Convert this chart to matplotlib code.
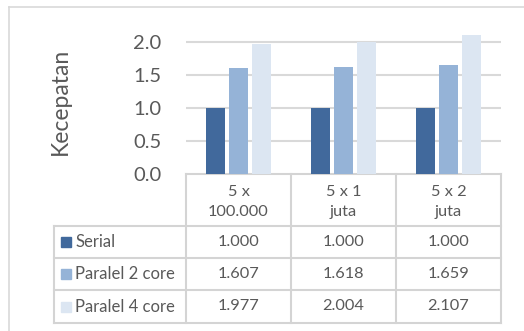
import numpy as np
import matplotlib
matplotlib.use("Agg")
import matplotlib.pyplot as plt
from matplotlib.patches import Rectangle

plt.rcParams['font.family'] = ['Lato', 'DejaVu Sans']

# data
categories = ["5 x\n100.000", "5 x 1\njuta", "5 x 2\njuta"]
series_names = ["Serial", "Paralel 2 core", "Paralel 4 core"]
serial = [1.000, 1.000, 1.000]
paralel2 = [1.607, 1.618, 1.659]
paralel4 = [1.977, 2.004, 2.107]
yticks = [0.0, 0.5, 1.0, 1.5, 2.0]

colors = ["#41699C", "#95B3D7", "#DCE6F2"]
grid_c = "#D9D9D9"
text_c = "#595959"

W, H = 524, 331
fig = plt.figure(figsize=(W / 100, H / 100), dpi=100)

# overlay axes in pixel coordinates for the frame and the data table
ov = fig.add_axes([0, 0, 1, 1])
ov.set_xlim(0, W)
ov.set_ylim(H, 0)
ov.axis("off")

# plot area
x0, x1 = 186, 501
y_zero, y_two = 174, 42
ymax = 2.2
top = y_zero - (y_zero - y_two) * ymax / 2.0
ax = fig.add_axes([x0 / W, 1 - y_zero / H, (x1 - x0) / W, (y_zero - top) / H])
ax.set_xlim(-0.5, len(categories) - 0.5)
ax.set_ylim(0, ymax)
ax.patch.set_alpha(0)

x = np.arange(len(categories))
bw = 0.176
off = 0.221
for k, vals in enumerate([serial, paralel2, paralel4]):
    ax.bar(x + (k - 1) * off, vals, width=bw, color=colors[k], zorder=3)

ax.set_yticks(yticks)
ax.set_yticklabels([f"{t:.1f}" for t in yticks], fontsize=14.5, color=text_c)
ax.set_xticks([])
ax.tick_params(axis="y", length=0, pad=17.5)
for t in yticks[1:]:
    ax.axhline(t, color=grid_c, lw=1.5, zorder=1)
for s in ax.spines.values():
    s.set_visible(False)
ax.set_ylabel("Kecepatan", fontsize=16.5, color=text_c, labelpad=45)

# chart border
ov.plot([8.5, 8.5], [331, 6.5], color=grid_c, lw=1.2)
ov.plot([8.5, 524], [6.5, 6.5], color=grid_c, lw=1.2)

# table grid
col_x = [186, 291, 396, 501]
row_y = [174, 226, 258, 290, 323]
tab_left = 54
lc = "#D4D4D4"
ov.plot([x0, x1], [row_y[0], row_y[0]], color=lc, lw=1.5)
for yy in row_y[1:]:
    ov.plot([tab_left, x1], [yy, yy], color=lc, lw=1.5)
for xx in col_x:
    ov.plot([xx, xx], [row_y[0], row_y[-1]], color=lc, lw=1.5)
ov.plot([tab_left, tab_left], [row_y[1], row_y[-1]], color=lc, lw=1.5)

# header row
for j, cat in enumerate(categories):
    cx = (col_x[j] + col_x[j + 1]) / 2
    ov.text(cx, (row_y[0] + row_y[1]) / 2 + 2, cat, ha="center", va="center",
            fontsize=11.8, color=text_c, linespacing=1.6)

# data rows
for i, (name, vals) in enumerate(zip(series_names, [serial, paralel2, paralel4])):
    cy = (row_y[i + 1] + row_y[i + 2]) / 2
    ov.add_patch(Rectangle((61, cy - 5), 10, 10, color=colors[i]))
    ov.text(75, cy, name, ha="left", va="center", fontsize=12, color=text_c)
    for j, v in enumerate(vals):
        cx = (col_x[j] + col_x[j + 1]) / 2
        ov.text(cx, cy, f"{v:.3f}", ha="center", va="center",
                fontsize=11.8, color=text_c)

fig.savefig("out.png", dpi=100)
